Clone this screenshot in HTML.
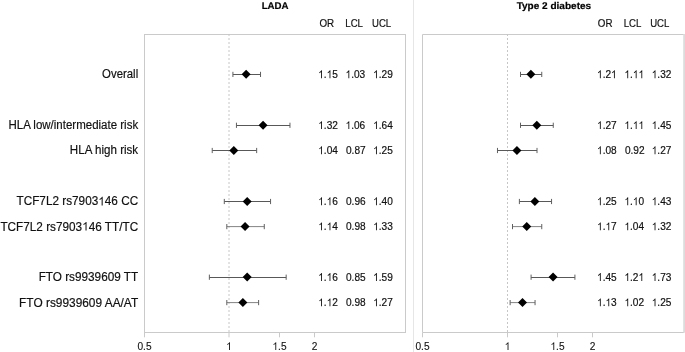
<!DOCTYPE html>
<html><head><meta charset="utf-8"><title>Forest plot</title>
<style>
html,body{margin:0;padding:0;background:#fff;}
body{width:685px;height:352px;overflow:hidden;font-family:"Liberation Sans", sans-serif;}
svg{display:block;}
text{font-family:"Liberation Sans", sans-serif;fill:#111;white-space:pre;}
.lab{font-size:12px;stroke:#111;stroke-width:0.18px;}
.num{font-size:11px;stroke:#111;stroke-width:0.2px;}
.hdr{font-size:11px;stroke:#111;stroke-width:0.2px;}
.ttl{font-size:9.8px;font-weight:bold;text-anchor:middle;fill:#000;stroke:#000;stroke-width:0.2px;}
.ax{font-size:10.8px;stroke:#111;stroke-width:0.12px;}
.g1{fill:#111;stroke:#111;vector-effect:non-scaling-stroke;}
</style></head><body>
<svg width="685" height="352" viewBox="0 0 685 352">
<defs><path id="one" d="M763 0H583V1147Q518 1085 412.500 1023Q307 961 223 930V1104Q374 1175 487 1276Q600 1377 647 1472H763Z"/></defs>
<rect x="0" y="0" width="685" height="352" fill="#fff"/>
<g opacity="0.999">

<rect x="144.5" y="34.5" width="261.0" height="298" fill="none" stroke="#cacaca" stroke-width="1"/>
<line x1="229.0" y1="34" x2="229.0" y2="332" stroke="#c6c6c6" stroke-width="1" stroke-dasharray="2,2"/>
<line x1="144.50" y1="332.5" x2="144.50" y2="337.3" stroke="#cacaca" stroke-width="1"/>
<g transform="translate(137.44,349.90) scale(0.94,1)">
<text class="ax" x="0.00" y="0">0.5</text>
</g>
<line x1="229.00" y1="332.5" x2="229.00" y2="337.3" stroke="#cacaca" stroke-width="1"/>
<g transform="translate(226.18,349.90) scale(0.94,1)">
<use href="#one" class="g1" stroke-width="0.12" transform="translate(0.00,0) scale(0.005273,-0.005273)"/>
</g>
<line x1="279.50" y1="332.5" x2="279.50" y2="337.3" stroke="#cacaca" stroke-width="1"/>
<g transform="translate(272.44,349.90) scale(0.94,1)">
<use href="#one" class="g1" stroke-width="0.12" transform="translate(0.00,0) scale(0.005273,-0.005273)"/>
<text class="ax" x="6.01" y="0">.5</text>
</g>
<line x1="314.50" y1="332.5" x2="314.50" y2="337.3" stroke="#cacaca" stroke-width="1"/>
<g transform="translate(311.68,349.90) scale(0.94,1)">
<text class="ax" x="0.00" y="0">2</text>
</g>
<text class="ttl" transform="translate(275.10,9.10) rotate(0.03) scale(0.989,1)">LADA</text>
<text class="hdr" transform="translate(319.50,27.10) scale(0.89,1)">OR</text>
<text class="hdr" transform="translate(345.30,27.10) scale(0.875,1)">LCL</text>
<text class="hdr" transform="translate(372.00,27.10) scale(0.87,1)">UCL</text>
<g stroke="#606060" stroke-width="1" fill="none"><line x1="232.92" y1="74.5" x2="260.53" y2="74.5" stroke="#585858"/><line x1="232.92" y1="71.80" x2="232.92" y2="77.00"/><line x1="260.53" y1="71.80" x2="260.53" y2="77.00"/></g>
<path d="M241.64 74.30 L246.14 69.80 L250.64 74.30 L246.14 78.80Z" fill="#000"/>
<g transform="translate(318.20,78.15) scale(0.92,1)">
<use href="#one" class="g1" stroke-width="0.2" transform="translate(0.00,0) scale(0.005371,-0.005371)"/>
<text class="num" x="6.12" y="0">.</text>
<use href="#one" class="g1" stroke-width="0.2" transform="translate(9.17,0) scale(0.005371,-0.005371)"/>
<text class="num" x="15.29" y="0">5</text>
</g>
<g transform="translate(345.50,78.15) scale(0.92,1)">
<use href="#one" class="g1" stroke-width="0.2" transform="translate(0.00,0) scale(0.005371,-0.005371)"/>
<text class="num" x="6.12" y="0">.03</text>
</g>
<g transform="translate(373.10,78.15) scale(0.92,1)">
<use href="#one" class="g1" stroke-width="0.2" transform="translate(0.00,0) scale(0.005371,-0.005371)"/>
<text class="num" x="6.12" y="0">.29</text>
</g>
<g stroke="#606060" stroke-width="1" fill="none"><line x1="236.45" y1="125.5" x2="289.96" y2="125.5" stroke="#585858"/><line x1="236.45" y1="122.70" x2="236.45" y2="127.90"/><line x1="289.96" y1="122.70" x2="289.96" y2="127.90"/></g>
<path d="M258.55 125.20 L263.05 120.70 L267.55 125.20 L263.05 129.70Z" fill="#000"/>
<g transform="translate(318.20,129.05) scale(0.92,1)">
<use href="#one" class="g1" stroke-width="0.2" transform="translate(0.00,0) scale(0.005371,-0.005371)"/>
<text class="num" x="6.12" y="0">.32</text>
</g>
<g transform="translate(345.50,129.05) scale(0.92,1)">
<use href="#one" class="g1" stroke-width="0.2" transform="translate(0.00,0) scale(0.005371,-0.005371)"/>
<text class="num" x="6.12" y="0">.06</text>
</g>
<g transform="translate(373.10,129.05) scale(0.92,1)">
<use href="#one" class="g1" stroke-width="0.2" transform="translate(0.00,0) scale(0.005371,-0.005371)"/>
<text class="num" x="6.12" y="0">.64</text>
</g>
<g stroke="#606060" stroke-width="1" fill="none"><line x1="212.22" y1="150.5" x2="256.66" y2="150.5" stroke="#585858"/><line x1="212.22" y1="147.90" x2="212.22" y2="153.10"/><line x1="256.66" y1="147.90" x2="256.66" y2="153.10"/></g>
<path d="M229.31 150.40 L233.81 145.90 L238.31 150.40 L233.81 154.90Z" fill="#000"/>
<g transform="translate(318.20,154.25) scale(0.92,1)">
<use href="#one" class="g1" stroke-width="0.2" transform="translate(0.00,0) scale(0.005371,-0.005371)"/>
<text class="num" x="6.12" y="0">.04</text>
</g>
<g transform="translate(346.00,154.25) scale(0.92,1)">
<text class="num" x="0.00" y="0">0.87</text>
</g>
<g transform="translate(373.10,154.25) scale(0.92,1)">
<use href="#one" class="g1" stroke-width="0.2" transform="translate(0.00,0) scale(0.005371,-0.005371)"/>
<text class="num" x="6.12" y="0">.25</text>
</g>
<g stroke="#606060" stroke-width="1" fill="none"><line x1="224.29" y1="201.5" x2="270.56" y2="201.5" stroke="#585858"/><line x1="224.29" y1="198.90" x2="224.29" y2="204.10"/><line x1="270.56" y1="198.90" x2="270.56" y2="204.10"/></g>
<path d="M242.70 201.40 L247.20 196.90 L251.70 201.40 L247.20 205.90Z" fill="#000"/>
<g transform="translate(318.20,205.25) scale(0.92,1)">
<use href="#one" class="g1" stroke-width="0.2" transform="translate(0.00,0) scale(0.005371,-0.005371)"/>
<text class="num" x="6.12" y="0">.</text>
<use href="#one" class="g1" stroke-width="0.2" transform="translate(9.17,0) scale(0.005371,-0.005371)"/>
<text class="num" x="15.29" y="0">6</text>
</g>
<g transform="translate(346.00,205.25) scale(0.92,1)">
<text class="num" x="0.00" y="0">0.96</text>
</g>
<g transform="translate(373.10,205.25) scale(0.92,1)">
<use href="#one" class="g1" stroke-width="0.2" transform="translate(0.00,0) scale(0.005371,-0.005371)"/>
<text class="num" x="6.12" y="0">.40</text>
</g>
<g stroke="#606060" stroke-width="1" fill="none"><line x1="226.82" y1="226.6" x2="264.27" y2="226.6" stroke="#848484"/><line x1="226.82" y1="224.00" x2="226.82" y2="229.20"/><line x1="264.27" y1="224.00" x2="264.27" y2="229.20"/></g>
<path d="M240.57 226.50 L245.07 222.00 L249.57 226.50 L245.07 231.00Z" fill="#000"/>
<g transform="translate(318.20,230.35) scale(0.92,1)">
<use href="#one" class="g1" stroke-width="0.2" transform="translate(0.00,0) scale(0.005371,-0.005371)"/>
<text class="num" x="6.12" y="0">.</text>
<use href="#one" class="g1" stroke-width="0.2" transform="translate(9.17,0) scale(0.005371,-0.005371)"/>
<text class="num" x="15.29" y="0">4</text>
</g>
<g transform="translate(346.00,230.35) scale(0.92,1)">
<text class="num" x="0.00" y="0">0.98</text>
</g>
<g transform="translate(373.10,230.35) scale(0.92,1)">
<use href="#one" class="g1" stroke-width="0.2" transform="translate(0.00,0) scale(0.005371,-0.005371)"/>
<text class="num" x="6.12" y="0">.33</text>
</g>
<g stroke="#606060" stroke-width="1" fill="none"><line x1="209.37" y1="277.5" x2="286.17" y2="277.5" stroke="#585858"/><line x1="209.37" y1="274.60" x2="209.37" y2="279.80"/><line x1="286.17" y1="274.60" x2="286.17" y2="279.80"/></g>
<path d="M242.70 277.10 L247.20 272.60 L251.70 277.10 L247.20 281.60Z" fill="#000"/>
<g transform="translate(318.20,280.95) scale(0.92,1)">
<use href="#one" class="g1" stroke-width="0.2" transform="translate(0.00,0) scale(0.005371,-0.005371)"/>
<text class="num" x="6.12" y="0">.</text>
<use href="#one" class="g1" stroke-width="0.2" transform="translate(9.17,0) scale(0.005371,-0.005371)"/>
<text class="num" x="15.29" y="0">6</text>
</g>
<g transform="translate(346.00,280.95) scale(0.92,1)">
<text class="num" x="0.00" y="0">0.85</text>
</g>
<g transform="translate(373.10,280.95) scale(0.92,1)">
<use href="#one" class="g1" stroke-width="0.2" transform="translate(0.00,0) scale(0.005371,-0.005371)"/>
<text class="num" x="6.12" y="0">.59</text>
</g>
<g stroke="#606060" stroke-width="1" fill="none"><line x1="226.82" y1="302.6" x2="258.61" y2="302.6" stroke="#848484"/><line x1="226.82" y1="300.00" x2="226.82" y2="305.20"/><line x1="258.61" y1="300.00" x2="258.61" y2="305.20"/></g>
<path d="M238.40 302.50 L242.90 298.00 L247.40 302.50 L242.90 307.00Z" fill="#000"/>
<g transform="translate(318.20,306.35) scale(0.92,1)">
<use href="#one" class="g1" stroke-width="0.2" transform="translate(0.00,0) scale(0.005371,-0.005371)"/>
<text class="num" x="6.12" y="0">.</text>
<use href="#one" class="g1" stroke-width="0.2" transform="translate(9.17,0) scale(0.005371,-0.005371)"/>
<text class="num" x="15.29" y="0">2</text>
</g>
<g transform="translate(346.00,306.35) scale(0.92,1)">
<text class="num" x="0.00" y="0">0.98</text>
</g>
<g transform="translate(373.10,306.35) scale(0.92,1)">
<use href="#one" class="g1" stroke-width="0.2" transform="translate(0.00,0) scale(0.005371,-0.005371)"/>
<text class="num" x="6.12" y="0">.27</text>
</g>
<line x1="413.5" y1="0" x2="413.5" y2="352" stroke="#e6e6e6" stroke-width="1"/>
<path d="M684 34.5H422.5V332.5H684" fill="none" stroke="#cacaca" stroke-width="1"/>
<line x1="684.1" y1="34" x2="684.1" y2="332.8" stroke="#dcdcdc" stroke-width="1.8"/>
<line x1="507.5" y1="34" x2="507.5" y2="332" stroke="#c6c6c6" stroke-width="1" stroke-dasharray="2,2"/>
<line x1="422.50" y1="332.5" x2="422.50" y2="337.3" stroke="#cacaca" stroke-width="1"/>
<g transform="translate(415.44,349.90) scale(0.94,1)">
<text class="ax" x="0.00" y="0">0.5</text>
</g>
<line x1="507.50" y1="332.5" x2="507.50" y2="337.3" stroke="#cacaca" stroke-width="1"/>
<g transform="translate(504.68,349.90) scale(0.94,1)">
<use href="#one" class="g1" stroke-width="0.12" transform="translate(0.00,0) scale(0.005273,-0.005273)"/>
</g>
<line x1="557.50" y1="332.5" x2="557.50" y2="337.3" stroke="#cacaca" stroke-width="1"/>
<g transform="translate(550.44,349.90) scale(0.94,1)">
<use href="#one" class="g1" stroke-width="0.12" transform="translate(0.00,0) scale(0.005273,-0.005273)"/>
<text class="ax" x="6.01" y="0">.5</text>
</g>
<line x1="592.50" y1="332.5" x2="592.50" y2="337.3" stroke="#cacaca" stroke-width="1"/>
<g transform="translate(589.68,349.90) scale(0.94,1)">
<text class="ax" x="0.00" y="0">2</text>
</g>
<text class="ttl" transform="translate(553.90,9.10) rotate(0.03) scale(1.025,1)">Type 2 diabetes</text>
<text class="hdr" transform="translate(597.80,27.10) scale(0.89,1)">OR</text>
<text class="hdr" transform="translate(623.70,27.10) scale(0.875,1)">LCL</text>
<text class="hdr" transform="translate(650.20,27.10) scale(0.87,1)">UCL</text>
<g stroke="#606060" stroke-width="1" fill="none"><line x1="520.50" y1="74.5" x2="541.75" y2="74.5" stroke="#585858"/><line x1="520.50" y1="71.80" x2="520.50" y2="77.00"/><line x1="541.75" y1="71.80" x2="541.75" y2="77.00"/></g>
<path d="M526.38 74.30 L530.88 69.80 L535.38 74.30 L530.88 78.80Z" fill="#000"/>
<g transform="translate(597.00,78.15) scale(0.92,1)">
<use href="#one" class="g1" stroke-width="0.2" transform="translate(0.00,0) scale(0.005371,-0.005371)"/>
<text class="num" x="6.12" y="0">.2</text>
<use href="#one" class="g1" stroke-width="0.2" transform="translate(15.29,0) scale(0.005371,-0.005371)"/>
</g>
<g transform="translate(624.40,78.15) scale(0.92,1)">
<use href="#one" class="g1" stroke-width="0.2" transform="translate(0.00,0) scale(0.005371,-0.005371)"/>
<text class="num" x="6.12" y="0">.</text>
<use href="#one" class="g1" stroke-width="0.2" transform="translate(9.17,0) scale(0.005371,-0.005371)"/>
<use href="#one" class="g1" stroke-width="0.2" transform="translate(15.29,0) scale(0.005371,-0.005371)"/>
</g>
<g transform="translate(651.70,78.15) scale(0.92,1)">
<use href="#one" class="g1" stroke-width="0.2" transform="translate(0.00,0) scale(0.005371,-0.005371)"/>
<text class="num" x="6.12" y="0">.32</text>
</g>
<g stroke="#606060" stroke-width="1" fill="none"><line x1="520.50" y1="125.5" x2="553.26" y2="125.5" stroke="#585858"/><line x1="520.50" y1="122.70" x2="520.50" y2="127.90"/><line x1="553.26" y1="122.70" x2="553.26" y2="127.90"/></g>
<path d="M532.31 125.20 L536.81 120.70 L541.31 125.20 L536.81 129.70Z" fill="#000"/>
<g transform="translate(597.00,129.05) scale(0.92,1)">
<use href="#one" class="g1" stroke-width="0.2" transform="translate(0.00,0) scale(0.005371,-0.005371)"/>
<text class="num" x="6.12" y="0">.27</text>
</g>
<g transform="translate(624.40,129.05) scale(0.92,1)">
<use href="#one" class="g1" stroke-width="0.2" transform="translate(0.00,0) scale(0.005371,-0.005371)"/>
<text class="num" x="6.12" y="0">.</text>
<use href="#one" class="g1" stroke-width="0.2" transform="translate(9.17,0) scale(0.005371,-0.005371)"/>
<use href="#one" class="g1" stroke-width="0.2" transform="translate(15.29,0) scale(0.005371,-0.005371)"/>
</g>
<g transform="translate(651.70,129.05) scale(0.92,1)">
<use href="#one" class="g1" stroke-width="0.2" transform="translate(0.00,0) scale(0.005371,-0.005371)"/>
<text class="num" x="6.12" y="0">.45</text>
</g>
<g stroke="#606060" stroke-width="1" fill="none"><line x1="497.47" y1="150.5" x2="537.01" y2="150.5" stroke="#585858"/><line x1="497.47" y1="147.90" x2="497.47" y2="153.10"/><line x1="537.01" y1="147.90" x2="537.01" y2="153.10"/></g>
<path d="M512.44 150.40 L516.94 145.90 L521.44 150.40 L516.94 154.90Z" fill="#000"/>
<g transform="translate(597.00,154.25) scale(0.92,1)">
<use href="#one" class="g1" stroke-width="0.2" transform="translate(0.00,0) scale(0.005371,-0.005371)"/>
<text class="num" x="6.12" y="0">.08</text>
</g>
<g transform="translate(624.90,154.25) scale(0.92,1)">
<text class="num" x="0.00" y="0">0.92</text>
</g>
<g transform="translate(651.70,154.25) scale(0.92,1)">
<use href="#one" class="g1" stroke-width="0.2" transform="translate(0.00,0) scale(0.005371,-0.005371)"/>
<text class="num" x="6.12" y="0">.27</text>
</g>
<g stroke="#606060" stroke-width="1" fill="none"><line x1="519.39" y1="201.5" x2="551.56" y2="201.5" stroke="#585858"/><line x1="519.39" y1="198.90" x2="519.39" y2="204.10"/><line x1="551.56" y1="198.90" x2="551.56" y2="204.10"/></g>
<path d="M530.36 201.40 L534.86 196.90 L539.36 201.40 L534.86 205.90Z" fill="#000"/>
<g transform="translate(597.00,205.25) scale(0.92,1)">
<use href="#one" class="g1" stroke-width="0.2" transform="translate(0.00,0) scale(0.005371,-0.005371)"/>
<text class="num" x="6.12" y="0">.25</text>
</g>
<g transform="translate(624.40,205.25) scale(0.92,1)">
<use href="#one" class="g1" stroke-width="0.2" transform="translate(0.00,0) scale(0.005371,-0.005371)"/>
<text class="num" x="6.12" y="0">.</text>
<use href="#one" class="g1" stroke-width="0.2" transform="translate(9.17,0) scale(0.005371,-0.005371)"/>
<text class="num" x="15.29" y="0">0</text>
</g>
<g transform="translate(651.70,205.25) scale(0.92,1)">
<use href="#one" class="g1" stroke-width="0.2" transform="translate(0.00,0) scale(0.005371,-0.005371)"/>
<text class="num" x="6.12" y="0">.43</text>
</g>
<g stroke="#606060" stroke-width="1" fill="none"><line x1="512.51" y1="226.6" x2="541.75" y2="226.6" stroke="#848484"/><line x1="512.51" y1="224.00" x2="512.51" y2="229.20"/><line x1="541.75" y1="224.00" x2="541.75" y2="229.20"/></g>
<path d="M522.25 226.50 L526.75 222.00 L531.25 226.50 L526.75 231.00Z" fill="#000"/>
<g transform="translate(597.00,230.35) scale(0.92,1)">
<use href="#one" class="g1" stroke-width="0.2" transform="translate(0.00,0) scale(0.005371,-0.005371)"/>
<text class="num" x="6.12" y="0">.</text>
<use href="#one" class="g1" stroke-width="0.2" transform="translate(9.17,0) scale(0.005371,-0.005371)"/>
<text class="num" x="15.29" y="0">7</text>
</g>
<g transform="translate(624.40,230.35) scale(0.92,1)">
<use href="#one" class="g1" stroke-width="0.2" transform="translate(0.00,0) scale(0.005371,-0.005371)"/>
<text class="num" x="6.12" y="0">.04</text>
</g>
<g transform="translate(651.70,230.35) scale(0.92,1)">
<use href="#one" class="g1" stroke-width="0.2" transform="translate(0.00,0) scale(0.005371,-0.005371)"/>
<text class="num" x="6.12" y="0">.32</text>
</g>
<g stroke="#606060" stroke-width="1" fill="none"><line x1="531.08" y1="277.5" x2="574.92" y2="277.5" stroke="#585858"/><line x1="531.08" y1="274.60" x2="531.08" y2="279.80"/><line x1="574.92" y1="274.60" x2="574.92" y2="279.80"/></g>
<path d="M548.56 277.10 L553.06 272.60 L557.56 277.10 L553.06 281.60Z" fill="#000"/>
<g transform="translate(597.00,280.95) scale(0.92,1)">
<use href="#one" class="g1" stroke-width="0.2" transform="translate(0.00,0) scale(0.005371,-0.005371)"/>
<text class="num" x="6.12" y="0">.45</text>
</g>
<g transform="translate(624.40,280.95) scale(0.92,1)">
<use href="#one" class="g1" stroke-width="0.2" transform="translate(0.00,0) scale(0.005371,-0.005371)"/>
<text class="num" x="6.12" y="0">.2</text>
<use href="#one" class="g1" stroke-width="0.2" transform="translate(15.29,0) scale(0.005371,-0.005371)"/>
</g>
<g transform="translate(651.70,280.95) scale(0.92,1)">
<use href="#one" class="g1" stroke-width="0.2" transform="translate(0.00,0) scale(0.005371,-0.005371)"/>
<text class="num" x="6.12" y="0">.73</text>
</g>
<g stroke="#606060" stroke-width="1" fill="none"><line x1="510.13" y1="302.6" x2="535.06" y2="302.6" stroke="#848484"/><line x1="510.13" y1="300.00" x2="510.13" y2="305.20"/><line x1="535.06" y1="300.00" x2="535.06" y2="305.20"/></g>
<path d="M517.99 302.50 L522.49 298.00 L526.99 302.50 L522.49 307.00Z" fill="#000"/>
<g transform="translate(597.00,306.35) scale(0.92,1)">
<use href="#one" class="g1" stroke-width="0.2" transform="translate(0.00,0) scale(0.005371,-0.005371)"/>
<text class="num" x="6.12" y="0">.</text>
<use href="#one" class="g1" stroke-width="0.2" transform="translate(9.17,0) scale(0.005371,-0.005371)"/>
<text class="num" x="15.29" y="0">3</text>
</g>
<g transform="translate(624.40,306.35) scale(0.92,1)">
<use href="#one" class="g1" stroke-width="0.2" transform="translate(0.00,0) scale(0.005371,-0.005371)"/>
<text class="num" x="6.12" y="0">.02</text>
</g>
<g transform="translate(651.70,306.35) scale(0.92,1)">
<use href="#one" class="g1" stroke-width="0.2" transform="translate(0.00,0) scale(0.005371,-0.005371)"/>
<text class="num" x="6.12" y="0">.25</text>
</g>
<g transform="translate(102.12,78.30) scale(0.9492,1)">
<text class="lab" x="0.00" y="0">Overall</text>
</g>
<g transform="translate(8.44,129.20) scale(0.9584,1)">
<text class="lab" x="0.00" y="0">HLA low/intermediate risk</text>
</g>
<g transform="translate(69.86,154.40) scale(0.9666,1)">
<text class="lab" x="0.00" y="0">HLA high risk</text>
</g>
<g transform="translate(16.51,205.40) scale(0.9809,1)">
<text class="lab" x="0.00" y="0">TCF7L2 rs7903</text>
<use href="#one" class="g1" stroke-width="0.18" transform="translate(83.37,0) scale(0.005859,-0.005859)"/>
<text class="lab" x="90.05" y="0">46 CC</text>
</g>
<g transform="translate(0.38,230.50) scale(0.9809,1)">
<text class="lab" x="0.00" y="0">TCF7L2 rs7903</text>
<use href="#one" class="g1" stroke-width="0.18" transform="translate(83.37,0) scale(0.005859,-0.005859)"/>
<text class="lab" x="90.05" y="0">46 TT/TC</text>
</g>
<g transform="translate(38.64,281.10) scale(0.9799,1)">
<text class="lab" x="0.00" y="0">FTO rs9939609 TT</text>
</g>
<g transform="translate(19.11,306.50) scale(0.9901,1)">
<text class="lab" x="0.00" y="0">FTO rs9939609 AA/AT</text>
</g>
</g></svg></body></html>
